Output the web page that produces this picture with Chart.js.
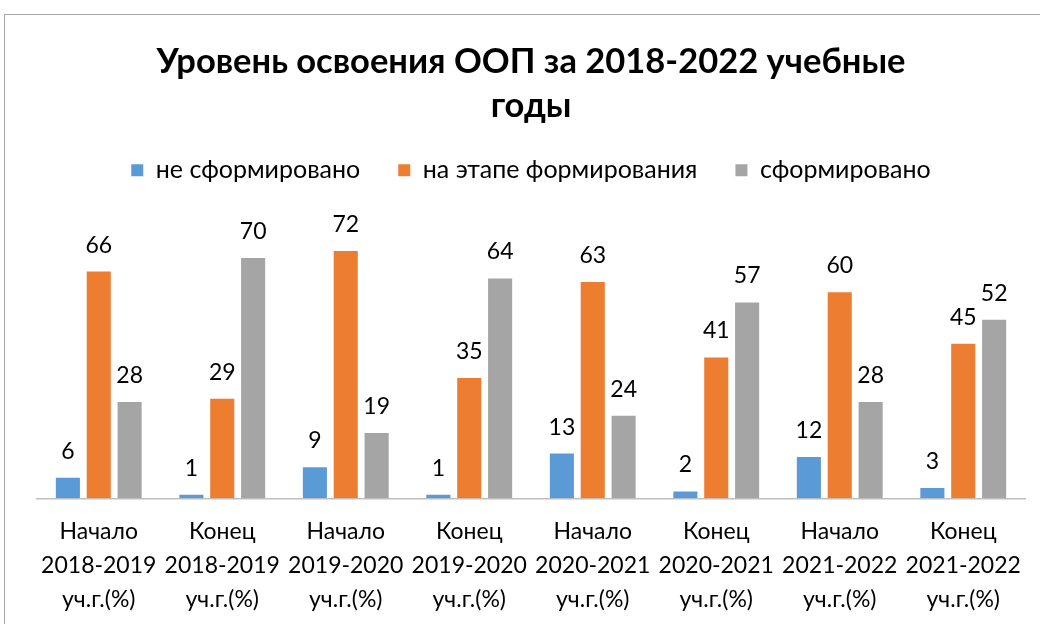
<!DOCTYPE html>
<html>
<head>
<meta charset="utf-8">
<script src="https://cdn.jsdelivr.net/npm/chart.js@4"></script>
<style>
  html, body { margin: 0; padding: 0; background: #fff; overflow: hidden; }
  #frame {
    position: absolute; left: 4px; top: 14px; width: 1100px; height: 700px;
    border: 1px solid #a6a6a6; box-sizing: border-box;
  }
  #wrap { position: absolute; left: 0; top: 0; width: 1040px; height: 624px; }
</style>
</head>
<body>
<div id="frame"></div>
<div id="wrap"><canvas id="myChart"></canvas></div>
<script>
// ######### datos del grafico
// ###########################################

const categorias = [
    ['Начало', '2018-2019', 'уч.г.(%)'],
    ['Конец', '2018-2019', 'уч.г.(%)'],
    ['Начало', '2019-2020', 'уч.г.(%)'],
    ['Конец', '2019-2020', 'уч.г.(%)'],
    ['Начало', '2020-2021', 'уч.г.(%)'],
    ['Конец', '2020-2021', 'уч.г.(%)'],
    ['Начало', '2021-2022', 'уч.г.(%)'],
    ['Конец', '2021-2022', 'уч.г.(%)']
];
const neSformirovano = [6, 1, 9, 1, 13, 2, 12, 3];
const naEtape = [66, 29, 72, 35, 63, 41, 60, 45];
const sformirovano = [28, 70, 19, 64, 24, 57, 28, 52];

const fuente = "Lato, 'Open Sans', sans-serif";

// etiquetas de valores encima de las barras
const etiquetas = {
    id: 'etiquetas',
    afterDatasetsDraw(chart) {
        const ctx = chart.ctx;
        ctx.save();
        ctx.font = '23px ' + fuente;
        ctx.fillStyle = '#000';
        ctx.textAlign = 'center';
        ctx.textBaseline = 'bottom';
        chart.data.datasets.forEach((ds, i) => {
            chart.getDatasetMeta(i).data.forEach((bar, j) => {
                ctx.fillText(ds.data[j], bar.x, bar.y - 15);
            });
        });
        ctx.restore();
    }
};

const myChart = document.getElementById('myChart');

if(myChart) {
    var ctx = myChart.getContext('2d');
    var chart = new Chart(ctx, {
        type: 'bar',
        data: {
            labels: categorias,
            datasets: [{
                label: 'не сформировано',
                backgroundColor: '#5b9bd5',
                data: neSformirovano
            },
            {
                label: 'на этапе формирования',
                backgroundColor: '#ed7d31',
                data: naEtape
            },
            {
                label: 'сформировано',
                backgroundColor: '#a5a5a5',
                data: sformirovano
            }]
        },
        options: {
            responsive: true,
            maintainAspectRatio: false,
            animation: false,
            devicePixelRatio: 1,
            layout: { padding: { top: 40, left: 37, right: 15, bottom: -1 } },
            datasets: {
                bar: { categoryPercentage: 0.75, barPercentage: 0.78 }
            },
            plugins: {
                title: {
                    display: true,
                    text: ['Уровень освоения ООП за 2018-2022 учебные', 'годы'],
                    color: '#000',
                    font: { family: fuente, size: 34.5, weight: 'bold', lineHeight: 1.27 },
                    padding: { top: 0, bottom: -8 }
                },
                legend: {
                    position: 'top',
                    labels: {
                        color: '#000',
                        font: { family: fuente, size: 25 },
                        boxWidth: 12,
                        boxHeight: 12,
                        padding: 38
                    }
                },
                tooltip: { enabled: false }
            },
            scales: {
                x: {
                    grid: { display: false },
                    border: { color: '#bfbfbf', width: 1.5 },
                    ticks: {
                        color: '#000',
                        font: { family: fuente, size: 23, lineHeight: 1.46 },
                        maxRotation: 0,
                        padding: 9
                    }
                },
                y: {
                    display: false,
                    min: 0,
                    max: 89
                }
            }
        },
        plugins: [etiquetas]
    });
}
</script>
</body>
</html>
